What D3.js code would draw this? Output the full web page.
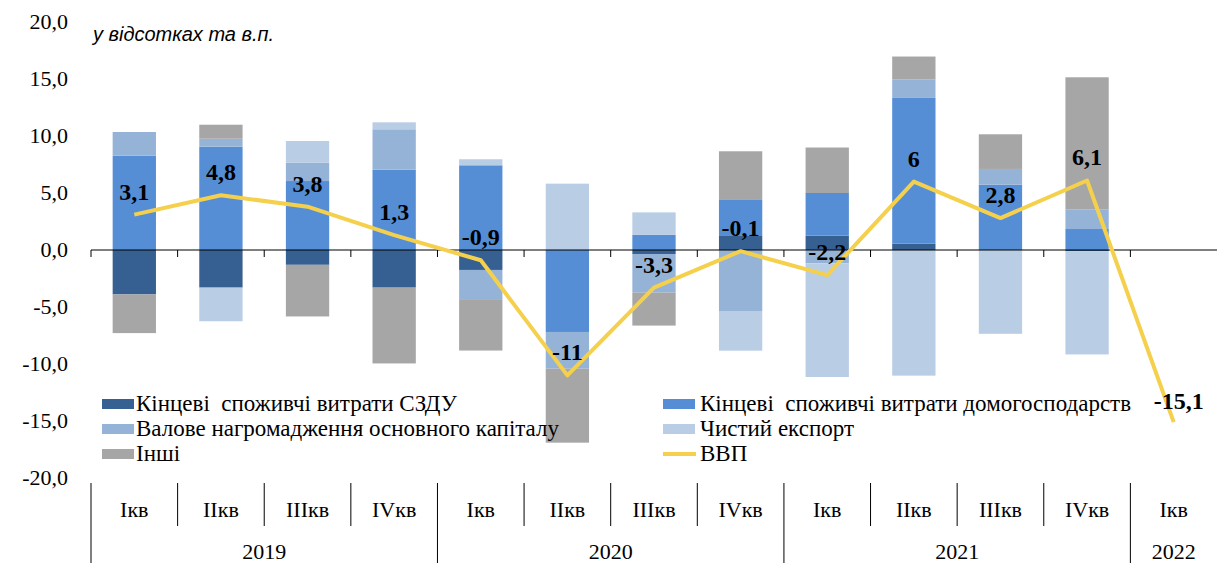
<!DOCTYPE html>
<html>
<head>
<meta charset="utf-8">
<script src="https://cdn.jsdelivr.net/npm/d3@7"></script>
<style>
  body { margin: 0; background: #fff; }
  svg { display: block; }
  text { font-family: 'Liberation Serif', 'DejaVu Serif', serif; fill: #000; }
</style>
</head>
<body>
<svg id="canvas" width="1217" height="563"></svg>
<script>
// quarters + years for the two level category axis
const quarters = ['Iкв', 'IIкв', 'IIIкв', 'IVкв', 'Iкв', 'IIкв', 'IIIкв', 'IVкв', 'Iкв', 'IIкв', 'IIIкв', 'IVкв', 'Iкв'];
const years = [
    {label: '2019', from: 0, to: 4},
    {label: '2020', from: 4, to: 8},
    {label: '2021', from: 8, to: 12},
    {label: '2022', from: 12, to: 13}
];

// contributions, в.п.
const szdu      = [-3.9, -3.3, -1.3, -3.3, -1.75, 0, -0.35, 1.23, 1.26, 0.56, 0, -0.1, 0];
const household = [8.27, 9.06, 6.05, 7.05, 7.43, -7.19, 1.34, 3.16, 3.74, 12.78, 5.73, 1.84, 0];
const gfcf      = [2.08, 0.7, 1.61, 3.54, -2.63, -3.22, -3.39, -5.35, -1.17, 1.61, 1.38, 1.73, 0];
const netExport = [0, -2.95, 1.9, 0.61, 0.53, 5.82, 1.96, -3.48, -9.97, -11.02, -7.35, -9.06, 0];
const other     = [-3.39, 1.23, -4.53, -6.65, -4.44, -6.49, -2.89, 4.27, 3.99, 2.02, 3.04, 11.58, 0];

// GDP line
const gdp = [3.1, 4.8, 3.8, 1.3, -0.9, -11, -3.3, -0.1, -2.2, 6, 2.8, 6.1, -15.1];
const gdpLabels = ['3,1', '4,8', '3,8', '1,3', '-0,9', '-11', '-3,3', '-0,1', '-2,2', '6', '2,8', '6,1', '-15,1'];

const yTicks = [20, 15, 10, 5, 0, -5, -10, -15, -20];

const seriesKeys = ['szdu', 'household', 'gfcf', 'netExport', 'other'];
const seriesNames = {
    szdu: 'Кінцеві  споживчі витрати СЗДУ',
    household: 'Кінцеві  споживчі витрати домогосподарств',
    gfcf: 'Валове нагромадження основного капіталу',
    netExport: 'Чистий експорт',
    other: 'Інші'
};
const colors = {
    szdu: '#376092',
    household: '#558ED5',
    gfcf: '#95B3D7',
    netExport: '#B9CDE5',
    other: '#A6A6A6'
};
const lineColor = '#F5D04C';

// build rows for d3.stack
let rows = quarters.map((q, i) => ({
    szdu: szdu[i], household: household[i], gfcf: gfcf[i],
    netExport: netExport[i], other: other[i]
}));

let canvas = d3.select('#canvas');

let x = d3.scaleBand()
    .domain(d3.range(quarters.length))
    .range([91, 1217])
    .paddingInner(0.5)
    .paddingOuter(0.25);
let step = x.step();
let edge = i => 91 + i * step;

let y = d3.scaleLinear()
    .domain([-20, 20])
    .range([478, 22]);

// y labels (no axis line in the original)
canvas.selectAll('text.ytick')
    .data(yTicks)
    .enter()
    .append('text')
    .attr('class', 'ytick')
    .attr('x', 68)
    .attr('y', d => y(d) + 7)
    .attr('text-anchor', 'end')
    .style('font-size', '22px')
    .text(d => d3.format('.1f')(d).replace('.', ',').replace('−', '-'));

canvas.append('text')
    .attr('x', 93)
    .attr('y', 41)
    .style('font-family', "'Liberation Sans', Arial, sans-serif")
    .style('font-style', 'italic')
    .style('font-size', '20px')
    .text('у відсотках та в.п.');

// stacked bars
let stack = d3.stack()
    .keys(seriesKeys)
    .offset(d3.stackOffsetDiverging);
let stacked = stack(rows);

canvas.append('g')
    .selectAll('g')
    .data(stacked)
    .enter()
    .append('g')
    .attr('fill', s => colors[s.key])
    .selectAll('rect')
    .data(s => s.map((d, i) => ({d: d, i: i})))
    .enter()
    .append('rect')
    .attr('x', p => x(p.i))
    .attr('width', x.bandwidth())
    .attr('y', p => y(Math.max(p.d[0], p.d[1])))
    .attr('height', p => Math.abs(y(p.d[0]) - y(p.d[1])));

// zero line with ticks
canvas.append('line')
    .attr('x1', 91).attr('x2', 1217)
    .attr('y1', y(0)).attr('y2', y(0))
    .attr('stroke', '#000').attr('stroke-width', 1);

canvas.selectAll('line.ztick')
    .data(d3.range(quarters.length))
    .enter()
    .append('line')
    .attr('class', 'ztick')
    .attr('x1', edge).attr('x2', edge)
    .attr('y1', y(0)).attr('y2', y(0) + 7)
    .attr('stroke', '#000').attr('stroke-width', 1);

// bottom category separators
canvas.selectAll('line.sep')
    .data(d3.range(quarters.length))
    .enter()
    .append('line')
    .attr('class', 'sep')
    .attr('x1', edge).attr('x2', edge)
    .attr('y1', 483)
    .attr('y2', i => (i % 4 === 0) ? 563 : 526)
    .attr('stroke', '#000').attr('stroke-width', 1);

canvas.selectAll('text.qlabel')
    .data(quarters)
    .enter()
    .append('text')
    .attr('class', 'qlabel')
    .attr('x', (d, i) => x(i) + x.bandwidth() / 2)
    .attr('y', 517)
    .attr('text-anchor', 'middle')
    .style('font-size', '22px')
    .text(d => d);

canvas.selectAll('text.ylabel')
    .data(years)
    .enter()
    .append('text')
    .attr('class', 'ylabel')
    .attr('x', d => (edge(d.from) + edge(d.to)) / 2)
    .attr('y', 559)
    .attr('text-anchor', 'middle')
    .style('font-size', '22px')
    .text(d => d.label);

// GDP line
let line = d3.line()
    .x((d, i) => x(i) + x.bandwidth() / 2)
    .y(d => y(d));

canvas.append('path')
    .datum(gdp)
    .attr('d', line)
    .attr('fill', 'none')
    .attr('stroke', lineColor)
    .attr('stroke-width', 4)
    .attr('stroke-linejoin', 'round');

// legend (drawn over the bars like in excel)
const legendItems = [
    {key: 'szdu', col: 0, row: 0},
    {key: 'gfcf', col: 0, row: 1},
    {key: 'other', col: 0, row: 2},
    {key: 'household', col: 1, row: 0},
    {key: 'netExport', col: 1, row: 1},
    {key: 'gdp', col: 1, row: 2}
];
let colX = [102, 663];

let legend = canvas.append('g')
    .selectAll('g')
    .data(legendItems)
    .enter()
    .append('g')
    .attr('transform', d => `translate(${colX[d.col]},${404 + d.row * 25})`);

legend.filter(d => d.key !== 'gdp')
    .append('rect')
    .attr('x', 0).attr('y', -5)
    .attr('width', 32).attr('height', 10)
    .attr('fill', d => colors[d.key]);

legend.filter(d => d.key === 'gdp')
    .append('line')
    .attr('x1', 0).attr('x2', 33)
    .attr('y1', 0).attr('y2', 0)
    .attr('stroke', lineColor)
    .attr('stroke-width', 4);

legend.append('text')
    .attr('x', d => d.col === 0 ? 34 : 37)
    .attr('y', 7)
    .style('font-size', '23px')
    .style('white-space', 'pre')
    .text(d => d.key === 'gdp' ? 'ВВП' : seriesNames[d.key]);

// GDP value labels
canvas.selectAll('text.vlabel')
    .data(gdp)
    .enter()
    .append('text')
    .attr('class', 'vlabel')
    .attr('x', (d, i) => x(i) + x.bandwidth() / 2 + (i === 12 ? 5 : 0))
    .attr('y', (d, i) => y(d) - (i === 12 ? 13 : 15))
    .attr('text-anchor', 'middle')
    .style('font-size', '24px')
    .style('font-weight', 'bold')
    .text((d, i) => gdpLabels[i]);
</script>
</body>
</html>
